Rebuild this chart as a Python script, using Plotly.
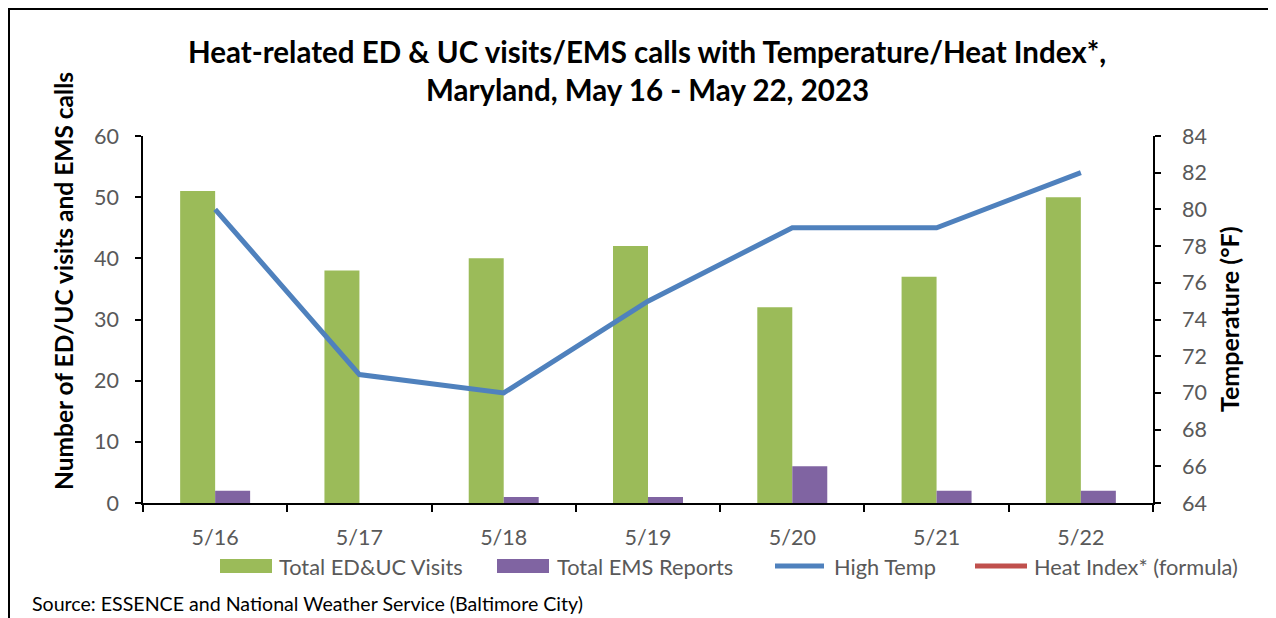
import plotly.graph_objects as go

dates = ["5/16", "5/17", "5/18", "5/19", "5/20", "5/21", "5/22"]
ed_uc_visits = [51, 38, 40, 42, 32, 37, 50]
ems_reports = [2, 0, 1, 1, 6, 2, 2]
high_temp = [80, 71, 70, 75, 79, 79, 82]
heat_index = [None, None, None, None, None, None, None]

OFF = 8  # page body margin
W, H = 1276 - OFF, 618 - OFF
# plot area in page pixel coordinates
L, R, T, B = 143, 1153, 136, 503
FONT = "Lato"
GREY = "#595959"
GREEN = "#9BBB59"
PURPLE = "#8064A2"
BLUE = "#4F81BD"
RED = "#C0504D"


def px(x):
    return (x - L) / (R - L)


def py(y):
    return (B - y) / (B - T)


fig = go.Figure()
fig.add_trace(go.Bar(x=dates, y=ed_uc_visits, name="Total ED&UC Visits",
                     marker=dict(color=GREEN, line=dict(width=0))))
fig.add_trace(go.Bar(x=dates, y=ems_reports, name="Total EMS Reports",
                     marker=dict(color=PURPLE, line=dict(width=0))))
fig.add_trace(go.Scatter(x=dates, y=high_temp, name="High Temp", mode="lines",
                         line=dict(color=BLUE, width=5), yaxis="y2"))
fig.add_trace(go.Scatter(x=dates, y=heat_index, name="Heat Index* (formula)", mode="lines",
                         line=dict(color=RED, width=5), yaxis="y2"))

shapes = []
annotations = []

# border
shapes.append(dict(type="line", xref="paper", yref="paper", x0=px(8), x1=px(1290), y0=py(9), y1=py(9),
                   line=dict(color="black", width=2)))
shapes.append(dict(type="line", xref="paper", yref="paper", x0=px(9), x1=px(9), y0=py(8), y1=py(640),
                   line=dict(color="black", width=2)))

# manual legend
leg_y = 566
legend_items = [
    ("rect", GREEN, 220, 272, "Total ED&UC Visits", 277),
    ("rect", PURPLE, 497, 549, "Total EMS Reports", 555),
    ("line", BLUE, 773, 826, "High Temp", 832),
    ("line", RED, 973, 1029, "Heat Index* (formula)", 1032),
]
for kind, col, x0, x1, label, tx in legend_items:
    if kind == "rect":
        shapes.append(dict(type="rect", xref="paper", yref="paper", x0=px(x0), x1=px(x1),
                           y0=py(leg_y + 7), y1=py(leg_y - 7), fillcolor=col, line=dict(width=0)))
    else:
        shapes.append(dict(type="line", xref="paper", yref="paper", x0=px(x0 + 2), x1=px(x1 - 2),
                           y0=py(leg_y), y1=py(leg_y), line=dict(color=col, width=5)))
    annotations.append(dict(text=label, xref="paper", yref="paper", x=px(tx), y=py(leg_y),
                            xanchor="left", yanchor="middle", showarrow=False,
                            font=dict(family=FONT, size=21.8, color=GREY)))

# title
annotations.append(dict(text="<b>Heat-related ED & UC visits/EMS calls with Temperature/Heat Index*,</b>",
                        xref="paper", yref="paper", x=px(647), y=py(51), xanchor="center", yanchor="middle",
                        showarrow=False, font=dict(family=FONT, size=29.5, color="black")))
annotations.append(dict(text="<b>Maryland, May 16 - May 22, 2023</b>",
                        xref="paper", yref="paper", x=px(647), y=py(89), xanchor="center", yanchor="middle",
                        showarrow=False, font=dict(family=FONT, size=29.5, color="black")))
# axis titles
annotations.append(dict(text="<b>Number of ED/UC visits and EMS calls</b>", textangle=-90,
                        xref="paper", yref="paper", x=px(63), y=py(281), xanchor="center", yanchor="middle",
                        showarrow=False, font=dict(family=FONT, size=24.5, color="black")))
annotations.append(dict(text="<b>Temperature (°F)</b>", textangle=-90,
                        xref="paper", yref="paper", x=px(1229), y=py(319), xanchor="center", yanchor="middle",
                        showarrow=False, font=dict(family=FONT, size=25, color="black")))
# source
annotations.append(dict(text="Source: ESSENCE and National Weather Service (Baltimore City)",
                        xref="paper", yref="paper", x=px(30), y=py(603), xanchor="left", yanchor="middle",
                        showarrow=False, font=dict(family=FONT, size=19.6, color="black")))

fig.update_layout(
    width=W, height=H,
    margin=dict(l=L - OFF, r=W + OFF - R, t=T - OFF, b=H + OFF - B, pad=0),
    paper_bgcolor="white", plot_bgcolor="white",
    barmode="group", bargap=0.515, bargroupgap=0,
    showlegend=False,
    font=dict(family=FONT, color=GREY),
    xaxis=dict(type="category", range=[-0.5, 6.5], tickson="boundaries", ticks="outside", ticklen=7,
               tickcolor="black", tickwidth=1.5, showline=True, linecolor="black", linewidth=1.5,
               showgrid=False, tickfont=dict(family=FONT, size=21.5, color=GREY), ticklabelstandoff=14),
    yaxis=dict(range=[0, 60], dtick=10, ticks="outside", ticklen=6, tickcolor="black", tickwidth=1.5,
               showline=True, linecolor="black", linewidth=1.5, showgrid=False, zeroline=False,
               tickfont=dict(family=FONT, size=21.5, color=GREY), ticklabelstandoff=12),
    yaxis2=dict(range=[64, 84], dtick=2, overlaying="y", side="right", ticks="outside", ticklen=6,
                tickcolor="black", tickwidth=1.5, showline=True, linecolor="black", linewidth=1.5,
                showgrid=False, zeroline=False, tickfont=dict(family=FONT, size=21.5, color=GREY),
                ticklabelstandoff=17),
    shapes=shapes, annotations=annotations,
)

fig.write_html("out.html")
